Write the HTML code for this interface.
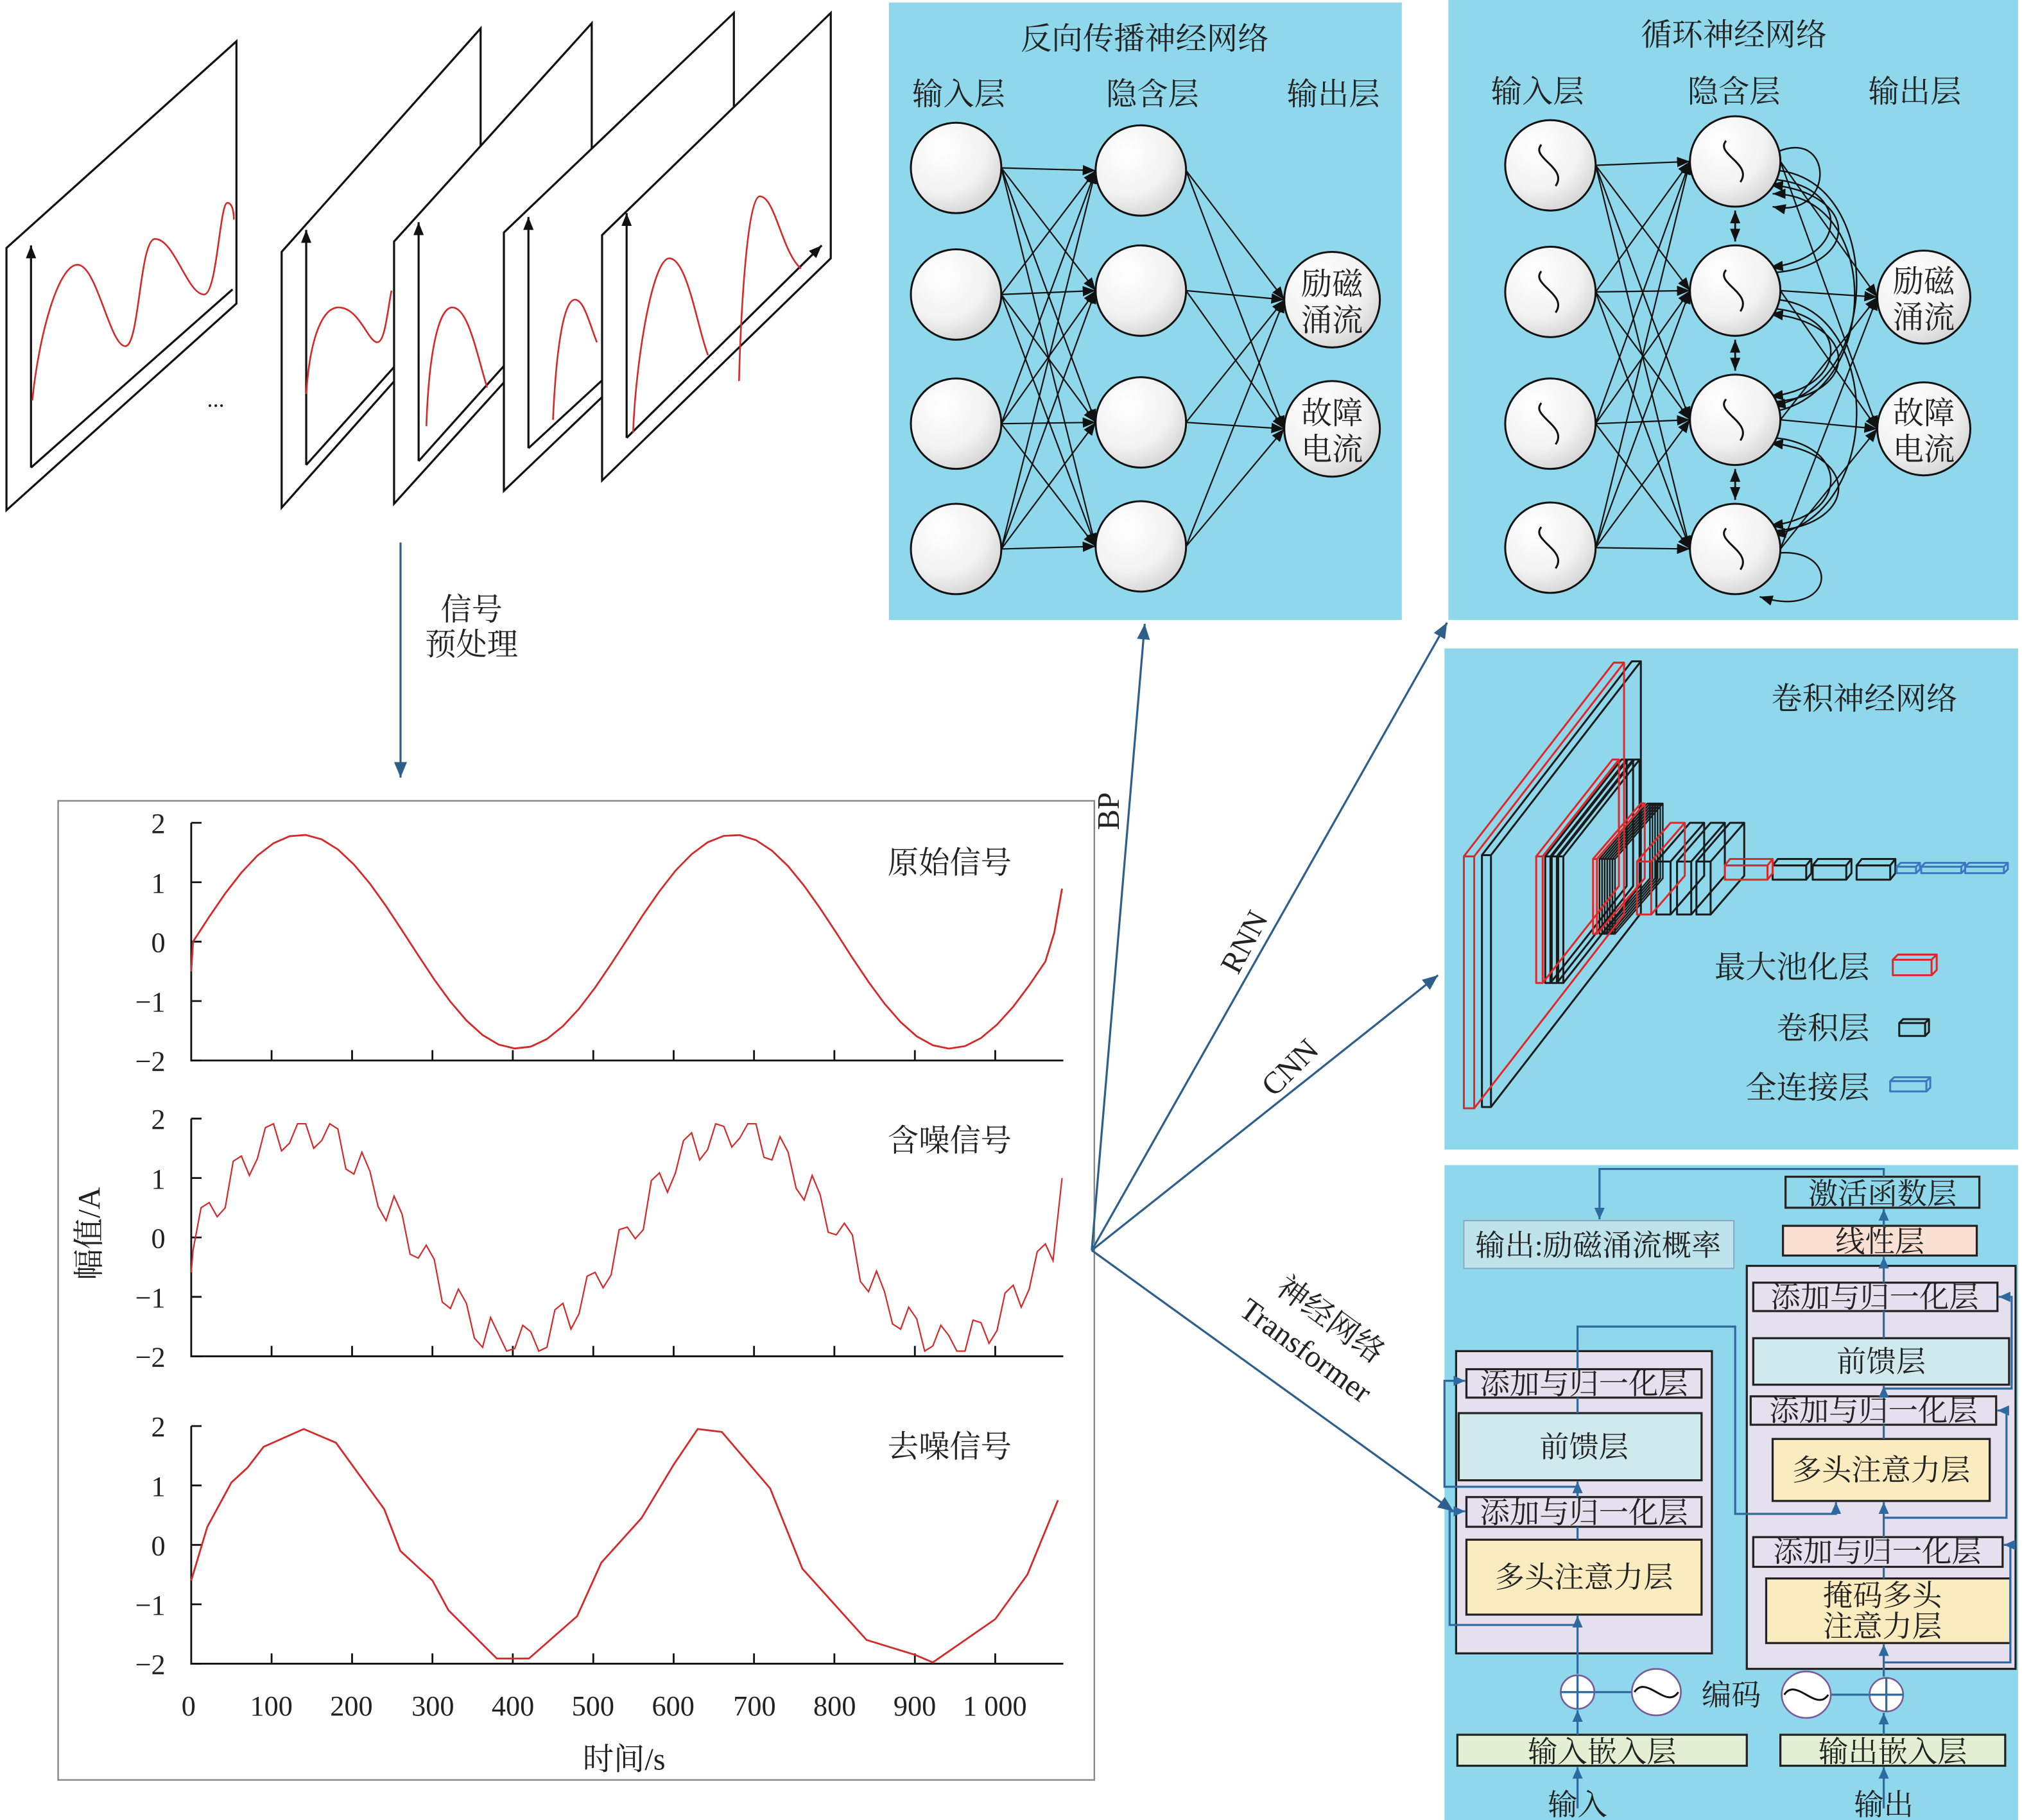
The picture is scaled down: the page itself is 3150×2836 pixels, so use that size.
<!DOCTYPE html>
<html><head><meta charset="utf-8">
<style>
html,body{margin:0;padding:0;background:#fff;}
svg{display:block;}
text{font-family:"Liberation Serif","Noto Serif CJK SC",serif;fill:#222;}
</style></head>
<body>
<svg xmlns="http://www.w3.org/2000/svg" xmlns:xlink="http://www.w3.org/1999/xlink" width="3150" height="2836" viewBox="0 0 1565 1409">
<defs>
<radialGradient id="ng" cx="0.35" cy="0.3" r="0.8">
<stop offset="0" stop-color="#ffffff"/><stop offset="0.6" stop-color="#f2f2f2"/><stop offset="1" stop-color="#cfcfcf"/>
</radialGradient>
<marker id="ak" markerWidth="10" markerHeight="8" refX="10" refY="4" orient="auto" markerUnits="userSpaceOnUse"><path d="M0,0 L10,4 L0,8z" fill="#111"/></marker>
<marker id="akr" markerWidth="10" markerHeight="8" refX="0" refY="4" orient="auto" markerUnits="userSpaceOnUse"><path d="M10,0 L0,4 L10,8z" fill="#111"/></marker>
<marker id="ab" markerWidth="12" markerHeight="10" refX="12" refY="5" orient="auto" markerUnits="userSpaceOnUse"><path d="M0,0 L12,5 L0,10z" fill="#2e5f8a"/></marker>
<marker id="ab2" markerWidth="9" markerHeight="8" refX="9" refY="4" orient="auto" markerUnits="userSpaceOnUse"><path d="M0,0 L9,4 L0,8z" fill="#2e6aa0"/></marker>
<path id="wig" d="M-7,-16 C-16,-6 14,2 4,16" fill="none" stroke="#111" stroke-width="1.5"/>
</defs>
<rect x="0" y="0" width="1565" height="1409" fill="#fff"/>

<rect x="688" y="2" width="397" height="478" fill="#8fd8ec"/>
<rect x="1121" y="0" width="441" height="480" fill="#8fd8ec"/>
<rect x="1118" y="502" width="444" height="388" fill="#8fd8ec"/>
<rect x="1118" y="902" width="444" height="507" fill="#8fd8ec"/>

<g stroke="#111" stroke-width="1.6">
<polygon points="5,192 183,32 183,235 5,395" fill="#fff"/>
<line x1="24" y1="362" x2="24" y2="190" marker-end="url(#ak)"/>
<line x1="24" y1="362" x2="180" y2="224"/>
<path d="M25,310 C30,260 45,205 60,205 C75,205 85,268 97,268 C108,268 108,185 120,185 C135,185 145,228 158,228 C168,228 170,157 176,157 C180,157 181,165 181,170" fill="none" stroke="#d42a2a" stroke-width="1.3"/>
<polygon points="218,195 372,22 372,220 218,393" fill="#fff"/>
<line x1="237" y1="360" x2="237" y2="178" marker-end="url(#ak)"/>
<line x1="237" y1="360" x2="367" y2="215"/>
<path d="M237,305 C240,260 250,238 262,238 C278,238 285,265 292,265 C298,265 300,240 303,225" fill="none" stroke="#d42a2a" stroke-width="1.3"/>
<polygon points="305,187 458,18 458,221 305,390" fill="#fff"/>
<line x1="324" y1="357" x2="324" y2="172" marker-end="url(#ak)"/>
<line x1="324" y1="357" x2="453" y2="213"/>
<path d="M330,330 C332,270 340,238 350,238 C362,238 368,270 377,300" fill="none" stroke="#d42a2a" stroke-width="1.3"/>
<polygon points="390,180 568,10 568,210 390,380" fill="#fff"/>
<line x1="409" y1="347" x2="409" y2="168" marker-end="url(#ak)"/>
<line x1="409" y1="347" x2="563" y2="205"/>
<path d="M428,325 C430,280 435,232 445,232 C452,232 456,250 462,265" fill="none" stroke="#d42a2a" stroke-width="1.3"/>
<polygon points="466,182 643,10 643,200 466,372" fill="#fff"/>
<line x1="485" y1="339" x2="485" y2="165" marker-end="url(#ak)"/>
<line x1="485" y1="339" x2="636" y2="190" marker-end="url(#ak)"/>
<path d="M490,335 C492,280 505,200 518,200 C532,200 540,255 548,275" fill="none" stroke="#d42a2a" stroke-width="1.3"/>
<path d="M572,295 C573,250 578,152 588,152 C600,152 605,195 620,208" fill="none" stroke="#d42a2a" stroke-width="1.3"/>
</g>
<text x="167" y="315" font-size="18" text-anchor="middle">...</text>

<line x1="310" y1="420" x2="310" y2="602" stroke="#2e5f8a" stroke-width="1.6" marker-end="url(#ab)"/>
<text x="365" y="480" font-size="24" text-anchor="middle">信号</text>
<text x="365" y="507" font-size="24" text-anchor="middle">预处理</text>

<rect x="45" y="620" width="802" height="758" fill="#fff" stroke="#888" stroke-width="1.2"/>
<g stroke="#111" stroke-width="1.4" fill="none">
<path d="M148,637V821H823 M148,866V1050H823 M148,1104V1288H823"/>
<path d="M148,637h8M148,683h8M148,729h8M148,775h8M148,821h8 M148,866h8M148,912h8M148,958h8M148,1004h8M148,1050h8 M148,1104h8M148,1150h8M148,1196h8M148,1242h8M148,1288h8"/>
<path d="M210.2,821v-8M272.5,821v-8M334.7,821v-8M396.9,821v-8M459.2,821v-8M521.4,821v-8M583.6,821v-8M645.8,821v-8M708.1,821v-8M770.3,821v-8
M210.2,1050v-8M272.5,1050v-8M334.7,1050v-8M396.9,1050v-8M459.2,1050v-8M521.4,1050v-8M583.6,1050v-8M645.8,1050v-8M708.1,1050v-8M770.3,1050v-8
M210.2,1288v-8M272.5,1288v-8M334.7,1288v-8M396.9,1288v-8M459.2,1288v-8M521.4,1288v-8M583.6,1288v-8M645.8,1288v-8M708.1,1288v-8M770.3,1288v-8"/>
</g>
<g font-size="22" text-anchor="end">
<text x="128" y="645">2</text><text x="128" y="691">1</text><text x="128" y="737">0</text><text x="128" y="783">−1</text><text x="128" y="829">−2</text>
<text x="128" y="874">2</text><text x="128" y="920">1</text><text x="128" y="966">0</text><text x="128" y="1012">−1</text><text x="128" y="1058">−2</text>
<text x="128" y="1112">2</text><text x="128" y="1158">1</text><text x="128" y="1204">0</text><text x="128" y="1250">−1</text><text x="128" y="1296">−2</text>
</g>
<g font-size="22" text-anchor="middle">
<text x="146" y="1328">0</text><text x="210" y="1328">100</text><text x="272" y="1328">200</text><text x="335" y="1328">300</text><text x="397" y="1328">400</text><text x="459" y="1328">500</text><text x="521" y="1328">600</text><text x="584" y="1328">700</text><text x="646" y="1328">800</text><text x="708" y="1328">900</text><text x="770" y="1328">1 000</text>
</g>
<polyline fill="none" stroke="#d42a2a" stroke-width="1.4" points="148,752 149.4,729 161.9,709.8 174.3,691.7 186.8,675.6 199.2,662.4 211.7,652.8 224.1,647.4 236.6,646.4 249.0,649.8 261.5,657.6 273.9,669.3 286.4,684.2 298.8,701.5 311.2,720.3 323.7,739.6 336.1,758.3 348.6,775.5 361.0,790.0 373.5,801.3 385.9,808.7 398.4,811.7 410.8,810.3 423.3,804.4 435.7,794.4 448.2,780.9 460.6,764.6 473.0,746.3 485.5,727.1 497.9,708.0 510.4,690.0 522.8,674.1 535.3,661.3 547.7,652.1 560.2,647.1 572.6,646.5 585.1,650.4 597.5,658.6 610.0,670.6 622.4,685.8 634.8,703.3 647.3,722.2 659.7,741.5 672.2,760.1 684.6,777.0 697.1,791.3 709.5,802.3 722.0,809.2 734.4,811.8 746.9,809.9 759.3,803.6 771.7,793.2 784.2,779.4 796.6,762.8 809.1,744.4 816,722 822,688"/>
<polyline fill="none" stroke="#d42a2a" stroke-width="1.1" points="148,985 149.4,968 155.6,935 161.9,931 168.1,942 174.3,935 180.5,899 186.8,895 193,910 199.2,897 205.4,873 211.7,870 217.9,891 224.1,885 230.3,870 236.6,870 242.8,889 249.0,883 255.2,870 261.5,874 267.7,905 273.9,909 280.1,892 286.4,907 292.6,934 298.8,945 305,926 311.2,940 317.4,971 323.7,974 329.9,964 336.1,975 342.3,1008 348.6,1013 354.8,998 361.0,1009 367.2,1036 373.5,1043 379.7,1020 385.9,1033 392.1,1046 398.4,1044 404.6,1026 410.8,1031 417,1046 423.3,1043 429.5,1014 435.7,1009 441.9,1029 448.2,1017 454.4,988 460.6,985 466.8,997 473.0,987 479.2,952 485.5,950 491.7,959 497.9,952 504.1,914 510.4,908 516.6,923 522.8,908 529,883 535.3,877 541.5,898 547.7,890 553.9,870 560.2,872 566.4,888 572.6,881 578.8,870 585.1,870 591.3,896 597.5,898 603.7,880 610.0,892 616.2,920 622.4,929 628.6,910 634.8,925 641,954 647.3,956 653.5,947 659.7,956 665.9,992 672.2,1000 678.4,984 684.6,1000 690.8,1025 697.1,1029 703.3,1012 709.5,1021 715.7,1046 722.0,1042 728.2,1026 734.4,1034 740.6,1046 746.9,1046 753.1,1022 759.3,1024 765.5,1040 771.7,1030 777.9,1001 784.2,995 790.4,1012 796.6,998 802.8,969 809.1,963 815,976 822,912"/>
<polyline fill="none" stroke="#d42a2a" stroke-width="1.4" points="148,1223.6 160.4,1182.2 179.1,1147.7 191.6,1136.2 204.0,1120.1 235.1,1106.3 260.0,1116.9 297.4,1168.4 309.8,1200.6 334.7,1223.6 347.1,1246.6 384.5,1284 409.4,1284 446.7,1251.2 465.4,1209.8 496.5,1175.3 521.4,1133.9 540.0,1106.3 558.7,1108.6 596.1,1152.3 621.0,1214.4 645.8,1242.0 670.7,1269.6 708.1,1281.1 722,1287 770.3,1253.5 795.2,1219.0 818.8,1161.5"/>
<text x="735" y="676" font-size="24" text-anchor="middle">原始信号</text>
<text x="735" y="891" font-size="24" text-anchor="middle">含噪信号</text>
<text x="735" y="1128" font-size="24" text-anchor="middle">去噪信号</text>
<text transform="translate(77,955) rotate(-90)" font-size="24" text-anchor="middle">幅值/A</text>
<text x="483" y="1370" font-size="24" text-anchor="middle">时间/s</text>

<g stroke="#2e5f8a" stroke-width="1.6" fill="none">
<line x1="845" y1="968" x2="886" y2="483" marker-end="url(#ab)"/>
<line x1="845" y1="968" x2="1120" y2="482" marker-end="url(#ab)"/>
<line x1="845" y1="968" x2="1113" y2="755" marker-end="url(#ab)"/>
<line x1="845" y1="968" x2="1125" y2="1170" marker-end="url(#ab)"/>
</g>
<text transform="translate(866,628) rotate(-90)" font-size="24" text-anchor="middle">BP</text>
<text transform="translate(970,733) rotate(-62)" font-size="24" text-anchor="middle">RNN</text>
<text transform="translate(1004,832) rotate(-45)" font-size="24" text-anchor="middle">CNN</text>
<text transform="translate(1025,1028) rotate(36)" font-size="24" text-anchor="middle">神经网络</text>
<text transform="translate(1006,1052) rotate(36)" font-size="24" text-anchor="middle">Transformer</text>

<!-- BP -->
<text x="886" y="38" font-size="24" text-anchor="middle">反向传播神经网络</text>
<text x="742" y="81" font-size="24" text-anchor="middle">输入层</text>
<text x="892" y="81" font-size="24" text-anchor="middle">隐含层</text>
<text x="1032" y="81" font-size="24" text-anchor="middle">输出层</text>
<g stroke="#111" stroke-width="1.1" marker-end="url(#ak)">
<line x1="775" y1="130" x2="848" y2="132"/><line x1="775" y1="130" x2="848" y2="225"/><line x1="775" y1="130" x2="848" y2="327"/><line x1="775" y1="130" x2="848" y2="423"/>
<line x1="775" y1="228" x2="848" y2="132"/><line x1="775" y1="228" x2="848" y2="225"/><line x1="775" y1="228" x2="848" y2="327"/><line x1="775" y1="228" x2="848" y2="423"/>
<line x1="775" y1="328" x2="848" y2="132"/><line x1="775" y1="328" x2="848" y2="225"/><line x1="775" y1="328" x2="848" y2="327"/><line x1="775" y1="328" x2="848" y2="423"/>
<line x1="775" y1="425" x2="848" y2="132"/><line x1="775" y1="425" x2="848" y2="225"/><line x1="775" y1="425" x2="848" y2="327"/><line x1="775" y1="425" x2="848" y2="423"/>
<line x1="918" y1="132" x2="994" y2="232"/><line x1="918" y1="132" x2="994" y2="332"/>
<line x1="918" y1="225" x2="994" y2="232"/><line x1="918" y1="225" x2="994" y2="332"/>
<line x1="918" y1="327" x2="994" y2="232"/><line x1="918" y1="327" x2="994" y2="332"/>
<line x1="918" y1="423" x2="994" y2="232"/><line x1="918" y1="423" x2="994" y2="332"/>
</g>
<g fill="url(#ng)" stroke="#111" stroke-width="1.5">
<circle cx="740" cy="130" r="35"/><circle cx="740" cy="228" r="35"/><circle cx="740" cy="328" r="35"/><circle cx="740" cy="425" r="35"/>
<circle cx="883" cy="132" r="35"/><circle cx="883" cy="225" r="35"/><circle cx="883" cy="327" r="35"/><circle cx="883" cy="423" r="35"/>
<circle cx="1031" cy="232" r="37"/><circle cx="1031" cy="332" r="37"/>
</g>
<g font-size="24" text-anchor="middle">
<text x="1031" y="228">励磁</text><text x="1031" y="256">涌流</text>
<text x="1031" y="328">故障</text><text x="1031" y="356">电流</text>
</g>

<!-- RNN -->
<text x="1342" y="35" font-size="24" text-anchor="middle">循环神经网络</text>
<text x="1190" y="79" font-size="24" text-anchor="middle">输入层</text>
<text x="1342" y="79" font-size="24" text-anchor="middle">隐含层</text>
<text x="1482" y="79" font-size="24" text-anchor="middle">输出层</text>
<g stroke="#111" stroke-width="1.1" marker-end="url(#ak)">
<line x1="1235" y1="128" x2="1308" y2="125"/><line x1="1235" y1="128" x2="1308" y2="225"/><line x1="1235" y1="128" x2="1308" y2="325"/><line x1="1235" y1="128" x2="1308" y2="425"/>
<line x1="1235" y1="226" x2="1308" y2="125"/><line x1="1235" y1="226" x2="1308" y2="225"/><line x1="1235" y1="226" x2="1308" y2="325"/><line x1="1235" y1="226" x2="1308" y2="425"/>
<line x1="1235" y1="328" x2="1308" y2="125"/><line x1="1235" y1="328" x2="1308" y2="225"/><line x1="1235" y1="328" x2="1308" y2="325"/><line x1="1235" y1="328" x2="1308" y2="425"/>
<line x1="1235" y1="424" x2="1308" y2="125"/><line x1="1235" y1="424" x2="1308" y2="225"/><line x1="1235" y1="424" x2="1308" y2="325"/><line x1="1235" y1="424" x2="1308" y2="425"/>
<line x1="1378" y1="125" x2="1453" y2="230"/><line x1="1378" y1="125" x2="1453" y2="332"/>
<line x1="1378" y1="225" x2="1453" y2="230"/><line x1="1378" y1="225" x2="1453" y2="332"/>
<line x1="1378" y1="325" x2="1453" y2="230"/><line x1="1378" y1="325" x2="1453" y2="332"/>
<line x1="1378" y1="425" x2="1453" y2="230"/><line x1="1378" y1="425" x2="1453" y2="332"/>
</g>
<g fill="none" stroke="#111" stroke-width="1.2" marker-end="url(#ak)">
<path d="M1374,139 C1432,145 1432,200 1370,207"/>
<path d="M1374,211 C1440,205 1440,150 1370,143"/>
<path d="M1374,239 C1432,245 1432,300 1370,307"/>
<path d="M1374,311 C1440,305 1440,250 1370,243"/>
<path d="M1374,339 C1432,345 1432,400 1370,407"/>
<path d="M1374,411 C1440,405 1440,350 1370,343"/>
<path d="M1376,132 C1458,140 1458,300 1372,314"/>
<path d="M1376,232 C1458,240 1458,400 1372,414"/>
<path d="M1376,318 C1456,300 1456,150 1372,150"/>
<path d="M1377,117 C1420,100 1420,170 1372,160"/>
<path d="M1378,428 C1425,425 1420,480 1362,462"/>
</g>
<g stroke="#111" stroke-width="1.4" marker-end="url(#ak)" marker-start="url(#akr)">
<line x1="1343" y1="163" x2="1343" y2="187"/><line x1="1343" y1="263" x2="1343" y2="287"/><line x1="1343" y1="363" x2="1343" y2="387"/>
</g>
<g fill="url(#ng)" stroke="#111" stroke-width="1.5">
<circle cx="1200" cy="128" r="35"/><circle cx="1200" cy="226" r="35"/><circle cx="1200" cy="328" r="35"/><circle cx="1200" cy="424" r="35"/>
<circle cx="1343" cy="125" r="35"/><circle cx="1343" cy="225" r="35"/><circle cx="1343" cy="325" r="35"/><circle cx="1343" cy="425" r="35"/>
<circle cx="1489" cy="230" r="36"/><circle cx="1489" cy="332" r="36"/>
</g>
<use href="#wig" xlink:href="#wig" x="1200" y="128"/><use href="#wig" xlink:href="#wig" x="1200" y="226"/><use href="#wig" xlink:href="#wig" x="1200" y="328"/><use href="#wig" xlink:href="#wig" x="1200" y="424"/>
<use href="#wig" xlink:href="#wig" x="1343" y="125"/><use href="#wig" xlink:href="#wig" x="1343" y="225"/><use href="#wig" xlink:href="#wig" x="1343" y="325"/><use href="#wig" xlink:href="#wig" x="1343" y="425"/>
<g font-size="24" text-anchor="middle">
<text x="1489" y="226">励磁</text><text x="1489" y="254">涌流</text>
<text x="1489" y="328">故障</text><text x="1489" y="356">电流</text>
</g>

<!-- CNN -->
<text x="1443" y="549" font-size="24" text-anchor="middle">卷积神经网络</text>
<g fill="none" stroke-width="1.5" stroke-linejoin="round">
<g stroke="#1a1a1a">
<path d="M1147,662h7v195h-7z l116,-150h7l-116,150 m116,-150v195l-116,150"/>
<path d="M1196,663h4v98h-4z l59,-75h4l-59,75 m59,-75v98l-59,75"/>
<path d="M1201,663h4v98h-4z l59,-75h4l-59,75 m59,-75v98l-59,75"/>
<path d="M1206,663h4v98h-4z l59,-75h4l-59,75 m59,-75v98l-59,75"/>
<path d="M1238,665h2v58h-2z l37,-43h2l-37,43 m37,-43v58l-37,43" stroke-width="1.2"/>
<path d="M1240,665h2v58h-2z l37,-43h2l-37,43 m37,-43v58l-37,43" stroke-width="1.2"/>
<path d="M1242,665h2v58h-2z l37,-43h2l-37,43 m37,-43v58l-37,43" stroke-width="1.2"/>
<path d="M1244,665h2v58h-2z l37,-43h2l-37,43 m37,-43v58l-37,43" stroke-width="1.2"/>
<path d="M1246,665h2v58h-2z l37,-43h2l-37,43 m37,-43v58l-37,43" stroke-width="1.2"/>
<path d="M1248,665h2v58h-2z l37,-43h2l-37,43 m37,-43v58l-37,43" stroke-width="1.2"/>
<path d="M1282,667h11v41h-11z l26,-30h11l-26,30 m26,-30v41l-26,30"/>
<path d="M1298,667h11v41h-11z l26,-30h11l-26,30 m26,-30v41l-26,30"/>
<path d="M1313,667h11v41h-11z l26,-30h11l-26,30 m26,-30v41l-26,30"/>
<path d="M1372,670h26v11h-26z l4,-5h26l-4,5 m4,-5v11l-4,5"/>
<path d="M1403,670h26v11h-26z l4,-5h26l-4,5 m4,-5v11l-4,5"/>
<path d="M1437,670h26v11h-26z l4,-5h26l-4,5 m4,-5v11l-4,5"/>
<path d="M1470,792h20v10h-20z l3,-3h20l-3,3 m3,-3v10l-3,3"/>
</g>
<g stroke="#e02828">
<path d="M1133,663h8v195h-8z l116,-150h8l-116,150 m116,-150v195l-116,150"/>
<path d="M1189,663h5v98h-5z l59,-75h5l-59,75 m59,-75v98l-59,75"/>
<path d="M1233,665h3v58h-3z l37,-43h3l-37,43 m37,-43v58l-37,43"/>
<path d="M1267,667h11v41h-11z l26,-30h11l-26,30 m26,-30v41l-26,30"/>
<path d="M1335,670h33v11h-33z l4,-5h33l-4,5 m4,-5v11l-4,5"/>
<path d="M1465,743h30v12h-30z l4,-4h30l-4,4 m4,-4v12l-4,4"/>
</g>
<g stroke="#3a78c0">
<path d="M1468,671h15v5h-15z l3,-3h15l-3,3 m3,-3v5l-3,3"/>
<path d="M1487,671h31v5h-31z l3,-3h31l-3,3 m3,-3v5l-3,3"/>
<path d="M1521,671h30v5h-30z l3,-3h30l-3,3 m3,-3v5l-3,3"/>
<path d="M1463,837h28v8h-28z l3,-3h28l-3,3 m3,-3v8l-3,3"/>
</g>
</g>
<text x="1447" y="757" font-size="24" text-anchor="end">最大池化层</text>
<text x="1447" y="804" font-size="24" text-anchor="end">卷积层</text>
<text x="1447" y="850" font-size="24" text-anchor="end">全连接层</text>

<!-- Transformer -->
<g stroke="#222" stroke-width="1.6">
<rect x="1382" y="911" width="150" height="24" fill="#8fd8ec"/>
<rect x="1133" y="945" width="209" height="37" fill="#bfe3ea" stroke="#8ab" stroke-width="1"/>
<rect x="1380" y="949" width="150" height="23" fill="#f9e0d2"/>
<rect x="1352" y="980" width="208" height="312" fill="#e6e0ee"/>
<rect x="1127" y="1046" width="198" height="234" fill="#e6e0ee"/>
<rect x="1357" y="993" width="189" height="22" fill="#e6e0ee"/>
<rect x="1357" y="1036" width="198" height="36" fill="#cfe9ec"/>
<rect x="1355" y="1081" width="190" height="22" fill="#e6e0ee"/>
<rect x="1372" y="1114" width="168" height="48" fill="#fbecc0"/>
<rect x="1357" y="1190" width="193" height="23" fill="#e6e0ee"/>
<rect x="1367" y="1222" width="189" height="50" fill="#fbecc0"/>
<rect x="1135" y="1060" width="182" height="22" fill="#e6e0ee"/>
<rect x="1129" y="1094" width="188" height="52" fill="#cfe9ec"/>
<rect x="1135" y="1159" width="182" height="23" fill="#e6e0ee"/>
<rect x="1135" y="1192" width="182" height="58" fill="#fbecc0"/>
<rect x="1128" y="1343" width="224" height="24" fill="#e3efd2"/>
<rect x="1378" y="1343" width="174" height="24" fill="#e3efd2"/>
</g>
<g stroke="#2e6aa0" stroke-width="1.6" fill="none">
<polyline points="1221,1400 1221,1368" marker-end="url(#ab2)"/>
<polyline points="1221,1343 1221,1324" marker-end="url(#ab2)"/>
<polyline points="1221,1296 1221,1251" marker-end="url(#ab2)"/>
<polyline points="1221,1192 1221,1182"/>
<polyline points="1221,1159 1221,1147" marker-end="url(#ab2)"/>
<polyline points="1221,1094 1221,1082"/>
<polyline points="1221,1060 1221,1027 1343,1027 1343,1172 1421,1172 1421,1163" marker-end="url(#ab2)"/>
<polyline points="1221,1258 1122,1258 1122,1170 1134,1170" marker-end="url(#ab2)"/>
<polyline points="1221,1151 1118,1151 1118,1069 1134,1069" marker-end="url(#ab2)"/>
<polyline points="1458,1400 1458,1368" marker-end="url(#ab2)"/>
<polyline points="1458,1343 1458,1326" marker-end="url(#ab2)"/>
<polyline points="1458,1298 1458,1273" marker-end="url(#ab2)"/>
<polyline points="1458,1222 1458,1213"/>
<polyline points="1458,1190 1458,1163" marker-end="url(#ab2)"/>
<polyline points="1458,1114 1458,1103"/>
<polyline points="1458,1081 1458,1073" marker-end="url(#ab2)"/>
<polyline points="1458,1036 1458,1015"/>
<polyline points="1458,993 1458,973" marker-end="url(#ab2)"/>
<polyline points="1458,949 1458,936" marker-end="url(#ab2)"/>
<polyline points="1458,911 1458,905 1238,905 1238,944" marker-end="url(#ab2)"/>
<polyline points="1458,1287 1556,1287 1556,1196 1551,1196" marker-end="url(#ab2)"/>
<polyline points="1458,1175 1553,1175 1553,1092 1546,1092" marker-end="url(#ab2)"/>
<polyline points="1458,1075 1557,1075 1557,1004 1547,1004" marker-end="url(#ab2)"/>
<line x1="1234" y1="1310" x2="1263" y2="1310"/>
<line x1="1417" y1="1312" x2="1447" y2="1312"/>
<circle cx="1221" cy="1310" r="13" fill="#fff" stroke="#7a5a9a" stroke-width="1.3"/>
<path d="M1208,1310h26M1221,1297v26"/>
<circle cx="1460" cy="1312" r="13" fill="#fff" stroke="#7a5a9a" stroke-width="1.3"/>
<path d="M1447,1312h26M1460,1299v26"/>
<ellipse cx="1282" cy="1310" rx="19" ry="18" fill="#fff" stroke="#7a5a9a" stroke-width="1.3"/>
<path d="M1265,1310 C1274,1296 1290,1324 1299,1310" stroke="#111" stroke-width="1.5"/>
<ellipse cx="1398" cy="1312" rx="19" ry="18" fill="#fff" stroke="#7a5a9a" stroke-width="1.3"/>
<path d="M1381,1312 C1390,1298 1406,1326 1415,1312" stroke="#111" stroke-width="1.5"/>
</g>
<g font-size="23" text-anchor="middle">
<text x="1457" y="932">激活函数层</text>
<text x="1237" y="972">输出:励磁涌流概率</text>
<text x="1455" y="969">线性层</text>
<text x="1451" y="1012">添加与归一化层</text>
<text x="1456" y="1062">前馈层</text>
<text x="1450" y="1100">添加与归一化层</text>
<text x="1456" y="1146">多头注意力层</text>
<text x="1453" y="1209">添加与归一化层</text>
<text x="1457" y="1243">掩码多头</text>
<text x="1457" y="1267">注意力层</text>
<text x="1226" y="1079">添加与归一化层</text>
<text x="1226" y="1128">前馈层</text>
<text x="1226" y="1179">添加与归一化层</text>
<text x="1226" y="1229">多头注意力层</text>
<text x="1240" y="1364">输入嵌入层</text>
<text x="1465" y="1364">输出嵌入层</text>
<text x="1340" y="1320">编码</text>
<text x="1221" y="1405">输入</text>
<text x="1458" y="1405">输出</text>
</g>
</svg>
</body></html>
